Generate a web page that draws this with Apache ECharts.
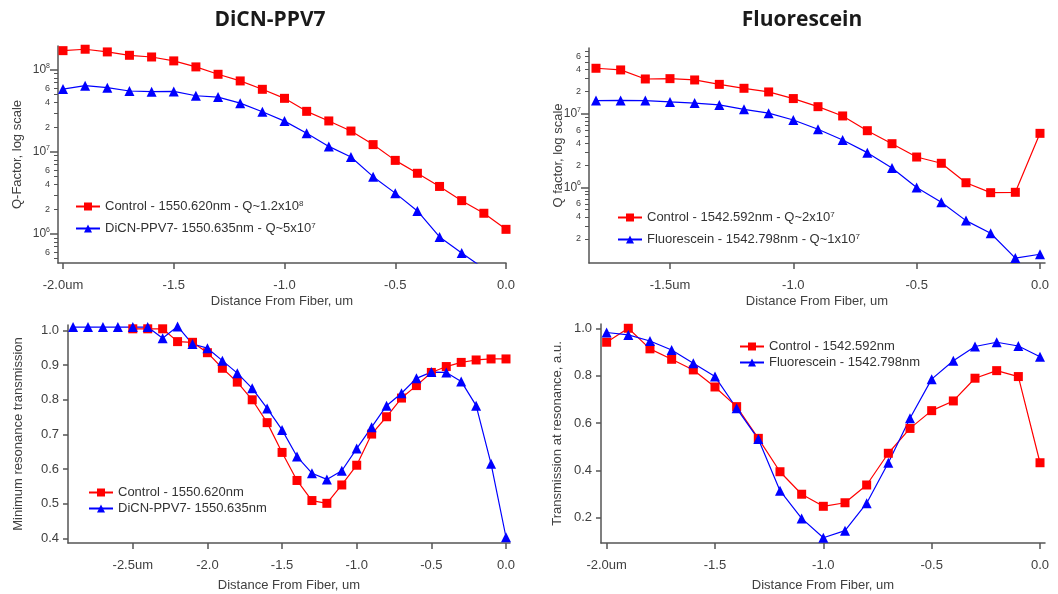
<!DOCTYPE html>
<html>
<head>
<meta charset="utf-8">
<script src="https://cdn.jsdelivr.net/npm/echarts@6/dist/echarts.min.js"></script>
<style>
html, body { margin: 0; padding: 0; background: #fff; }
#chart { width: 1058px; height: 594px; }
</style>
</head>
<body>
<div id="chart"></div>
<script>
// distance from fiber, um
var dist21 = [-2.0, -1.9, -1.8, -1.7, -1.6, -1.5, -1.4, -1.3, -1.2, -1.1, -1.0, -0.9, -0.8, -0.7, -0.6, -0.5, -0.4, -0.3, -0.2, -0.1, 0.0]
var dist19 = [-1.8, -1.7, -1.6, -1.5, -1.4, -1.3, -1.2, -1.1, -1.0, -0.9, -0.8, -0.7, -0.6, -0.5, -0.4, -0.3, -0.2, -0.1, 0.0]
var dist26 = [-2.5, -2.4, -2.3, -2.2, -2.1, -2.0, -1.9, -1.8, -1.7, -1.6, -1.5, -1.4, -1.3, -1.2, -1.1, -1.0, -0.9, -0.8, -0.7, -0.6, -0.5, -0.4, -0.3, -0.2, -0.1, 0.0]
var dist30 = [-2.9, -2.8, -2.7, -2.6, -2.5, -2.4, -2.3, -2.2, -2.1, -2.0, -1.9, -1.8, -1.7, -1.6, -1.5, -1.4, -1.3, -1.2, -1.1, -1.0, -0.9, -0.8, -0.7, -0.6, -0.5, -0.4, -0.3, -0.2, -0.1, 0.0]

// Q factor, DiCN-PPV7 panel
var qControlA = [1.72e8, 1.79e8, 1.66e8, 1.51e8, 1.44e8, 1.29e8, 1.09e8, 8.86e7, 7.35e7, 5.81e7, 4.51e7, 3.13e7, 2.39e7, 1.80e7, 1.23e7, 7.9e6, 5.5e6, 3.8e6, 2.55e6, 1.79e6, 1.14e6]
var qDicn = [5.85e7, 6.43e7, 6.08e7, 5.54e7, 5.43e7, 5.48e7, 4.85e7, 4.67e7, 3.94e7, 3.09e7, 2.38e7, 1.69e7, 1.17e7, 8.7e6, 5.0e6, 3.15e6, 1.91e6, 9.2e5, 5.85e5, 3.8e5]

// Q factor, Fluorescein panel
var qControlB = [4.15e7, 3.94e7, 2.97e7, 3.0e7, 2.88e7, 2.51e7, 2.22e7, 1.98e7, 1.61e7, 1.25e7, 9.35e6, 5.9e6, 3.93e6, 2.59e6, 2.13e6, 1.16e6, 8.5e5, 8.6e5, 5.43e6]
var qFluor = [1.51e7, 1.52e7, 1.51e7, 1.45e7, 1.40e7, 1.32e7, 1.15e7, 1.02e7, 8.25e6, 6.16e6, 4.42e6, 2.97e6, 1.84e6, 1.0e6, 6.3e5, 3.55e5, 2.39e5, 1.1e5, 1.24e5]

// transmission, DiCN-PPV7 panel
var tControlA = [1.005, 1.005, 1.005, 0.968, 0.966, 0.936, 0.891, 0.851, 0.800, 0.734, 0.648, 0.567, 0.509, 0.501, 0.554, 0.611, 0.701, 0.751, 0.805, 0.841, 0.879, 0.896, 0.908, 0.915, 0.918, 0.918]
var tDicn = [1.01, 1.01, 1.01, 1.01, 1.01, 1.01, 0.978, 1.012, 0.961, 0.949, 0.913, 0.877, 0.833, 0.775, 0.713, 0.636, 0.588, 0.570, 0.595, 0.659, 0.721, 0.783, 0.819, 0.862, 0.880, 0.879, 0.853, 0.783, 0.615, 0.403]

// transmission, Fluorescein panel
var tControlB = [0.941, 1.0, 0.913, 0.869, 0.824, 0.752, 0.669, 0.535, 0.394, 0.299, 0.248, 0.263, 0.338, 0.472, 0.577, 0.652, 0.693, 0.789, 0.821, 0.796, 0.432]
var tFluor = [0.982, 0.972, 0.946, 0.908, 0.852, 0.796, 0.662, 0.532, 0.314, 0.197, 0.115, 0.145, 0.261, 0.432, 0.620, 0.785, 0.863, 0.923, 0.941, 0.925, 0.880]

// tick labels
var xTicksA = [-2.0, -1.5, -1.0, -0.5, 0.0]
var xTicksB = [-1.5, -1.0, -0.5, 0.0]
var xTicksC = [-2.5, -2.0, -1.5, -1.0, -0.5, 0.0]
var xTicksD = [-2.0, -1.5, -1.0, -0.5, 0.0]
var yTicksC = [0.4, 0.5, 0.6, 0.7, 0.8, 0.9, 1.0]
var yTicksD = [0.2, 0.4, 0.6, 0.8, 1.0]
var qLabelsA = [6e5, 1e6, 2e6, 4e6, 6e6, 1e7, 2e7, 4e7, 6e7, 1e8]
var qLabelsB = [2e5, 4e5, 6e5, 1e6, 2e6, 4e6, 6e6, 1e7, 2e7, 4e7, 6e7]

var names = {
  ctrlQA: 'Control - 1550.620nm - Q~1.2x10^8',
  dicnQ: 'DiCN-PPV7- 1550.635nm - Q~5x10^7',
  ctrlQB: 'Control - 1542.592nm - Q~2x10^7',
  fluorQ: 'Fluorescein - 1542.798nm - Q~1x10^7',
  ctrlTA: 'Control - 1550.620nm',
  dicnT: 'DiCN-PPV7- 1550.635nm',
  ctrlTB: 'Control - 1542.592nm',
  fluorT: 'Fluorescein - 1542.798nm'
}

var FONT = '"Liberation Sans", Arial, sans-serif'
var TXT = '#404040'
var AXIS = '#555'
var RED = '#ff0000'
var BLUE = '#0000ff'

function pairs(xs, ys) {
  return ys.map(function (y, i) { return [xs[i], y] })
}

function log10s(arr) {
  return arr.map(function (v) { return Math.log10(v) })
}

// 2..9 x 10^n ticks inside [lo, hi]
function minorLogTicks(lo, hi) {
  var out = []
  for (var e = Math.floor(Math.log10(lo)); e <= Math.ceil(Math.log10(hi)); e++) {
    for (var m = 2; m <= 9; m++) {
      var v = m * Math.pow(10, e)
      if (v >= lo && v <= hi) out.push(Math.log10(v))
    }
  }
  return out
}

// long ticks only at the labelled powers of ten
function decadeTicks(labels) {
  return log10s(labels).filter(function (v) { return Math.abs(v - Math.round(v)) < 1e-6 })
}

function logLabel(v) {
  var e = Math.floor(v + 1e-6)
  var m = Math.round(Math.pow(10, v - e))
  if (m === 1) return '{b|10}{s|' + e + '}'
  return '{m|' + m + '}'
}

function supName(name) {
  return name.replace(/\^(\d+)/, '{s|$1}')
}

function xAxisOf(grid, min, max, ticks, name, nameGap) {
  return {
    gridIndex: grid, type: 'value', min: min, max: max,
    name: name, nameLocation: 'middle', nameGap: nameGap,
    nameTextStyle: { fontFamily: FONT, fontSize: 13, color: TXT },
    axisLine: { show: true, onZero: false, lineStyle: { color: AXIS, width: 1.5 } },
    axisTick: { show: true, length: 6, customValues: ticks, lineStyle: { color: AXIS, width: 1.5 } },
    axisLabel: {
      customValues: ticks, margin: 16, fontFamily: FONT, fontSize: 13, color: TXT,
      formatter: function (v) { return v === ticks[0] ? v.toFixed(1) + 'um' : v.toFixed(1) }
    },
    splitLine: { show: false }
  }
}

function valueYAxis(grid, min, max, ticks, name, nameGap) {
  return {
    gridIndex: grid, type: 'value', min: min, max: max, position: 'left',
    name: name, nameLocation: 'middle', nameGap: nameGap,
    nameTextStyle: { fontFamily: FONT, fontSize: 13, color: TXT },
    axisLine: { show: true, onZero: false, lineStyle: { color: AXIS, width: 1.5 } },
    axisTick: { show: true, length: 5, customValues: ticks, lineStyle: { color: AXIS, width: 1.5 } },
    axisLabel: {
      customValues: ticks, margin: 9, fontFamily: FONT, fontSize: 13, color: TXT,
      formatter: function (v) { return v.toFixed(1) }
    },
    splitLine: { show: false }
  }
}

// log grid: one log axis for the data, plus two overlaid axes for ticks and labels
function logYAxes(grid, lo, hi, labels, name, nameGap) {
  return [
    {
      gridIndex: grid, type: 'log', logBase: 10, min: lo, max: hi, position: 'left',
      name: name, nameLocation: 'middle', nameGap: nameGap,
      nameTextStyle: { fontFamily: FONT, fontSize: 13, color: TXT },
      axisLine: { show: true, onZero: false, lineStyle: { color: AXIS, width: 1.5 } },
      axisTick: { show: false }, axisLabel: { show: false }, splitLine: { show: false }
    },
    {
      gridIndex: grid, type: 'value', min: Math.log10(lo), max: Math.log10(hi), position: 'left',
      axisLine: { show: false, onZero: false },
      axisTick: { show: true, length: 4, customValues: minorLogTicks(lo, hi), lineStyle: { color: AXIS, width: 1 } },
      axisLabel: {
        customValues: log10s(labels), margin: 8, fontFamily: FONT, color: TXT,
        formatter: logLabel,
        rich: {
          b: { fontFamily: FONT, fontSize: 12, color: TXT, lineHeight: 15 },
          s: { fontFamily: FONT, fontSize: 7, color: TXT, lineHeight: 7, verticalAlign: 'top' },
          m: { fontFamily: FONT, fontSize: 9, color: TXT }
        }
      },
      splitLine: { show: false }
    },
    {
      gridIndex: grid, type: 'value', min: Math.log10(lo), max: Math.log10(hi), position: 'left',
      axisLine: { show: false, onZero: false },
      axisTick: { show: true, length: 8, customValues: decadeTicks(labels), lineStyle: { color: AXIS, width: 1.5 } },
      axisLabel: { show: false },
      splitLine: { show: false }
    }
  ]
}

function lineSeries(name, xi, yi, data, color, symbol) {
  return {
    name: name, type: 'line', xAxisIndex: xi, yAxisIndex: yi, data: data,
    symbol: symbol, symbolSize: symbol === 'rect' ? 9 : 10,
    itemStyle: { color: color }, lineStyle: { color: color, width: 1.2 },
    clip: true, animation: false
  }
}

function legendOf(left, top, gap, data) {
  return {
    orient: 'vertical', left: left, top: top, itemWidth: 24, itemHeight: 10, itemGap: gap,
    padding: 0, data: data, formatter: supName,
    textStyle: {
      fontFamily: FONT, fontSize: 13, color: '#333',
      rich: { s: { fontFamily: FONT, fontSize: 8, color: '#333', lineHeight: 8, verticalAlign: 'top' } }
    }
  }
}

var qA = [4.43e5, 1.96e8]
var qB = [9.44e4, 7.82e7]

var chart = echarts.init(document.getElementById('chart'))
chart.setOption({
  backgroundColor: '#fff',
  animation: false,
  title: [
    { text: 'DiCN-PPV7', left: 270, top: 10, textAlign: 'center', padding: 0,
      textStyle: { fontFamily: '"Open Sans", sans-serif', fontWeight: 'bold', fontSize: 21, color: '#1a1a1a' } },
    { text: 'Fluorescein', left: 802, top: 10, textAlign: 'center', padding: 0,
      textStyle: { fontFamily: '"Open Sans", sans-serif', fontWeight: 'bold', fontSize: 21, color: '#1a1a1a' } }
  ],
  grid: [
    { left: 58, top: 46, width: 448, height: 217 },
    { left: 589, top: 48, width: 456, height: 215 },
    { left: 68, top: 325, width: 442, height: 218 },
    { left: 601, top: 324, width: 444, height: 219 }
  ],
  xAxis: [
    xAxisOf(0, -2.0226, 0, xTicksA, 'Distance From Fiber, um', 32),
    xAxisOf(1, -1.8283, 0.0203, xTicksB, 'Distance From Fiber, um', 32),
    xAxisOf(2, -2.934, 0.0268, xTicksC, 'Distance From Fiber, um', 36),
    xAxisOf(3, -2.026, 0.023, xTicksD, 'Distance From Fiber, um', 36)
  ],
  yAxis: [].concat(
    logYAxes(0, qA[0], qA[1], qLabelsA, 'Q-Factor, log scale', 34),
    logYAxes(1, qB[0], qB[1], qLabelsB, 'Q factor, log scale', 24),
    [valueYAxis(2, 0.3864, 1.016, yTicksC, 'Minimum resonance transmission', 43)],
    [valueYAxis(3, 0.093, 1.018, yTicksD, 'Transmission at resonance, a.u.', 37)]
  ),
  legend: [
    legendOf(75, 200, 9, [names.ctrlQA, names.dicnQ]),
    legendOf(617, 211, 9, [names.ctrlQB, names.fluorQ]),
    legendOf(88, 486, 3, [names.ctrlTA, names.dicnT]),
    legendOf(739, 340, 3, [names.ctrlTB, names.fluorT])
  ],
  series: [
    lineSeries(names.ctrlQA, 0, 0, pairs(dist21, qControlA), RED, 'rect'),
    lineSeries(names.dicnQ, 0, 0, pairs(dist21, qDicn), BLUE, 'triangle'),
    lineSeries(names.ctrlQB, 1, 3, pairs(dist19, qControlB), RED, 'rect'),
    lineSeries(names.fluorQ, 1, 3, pairs(dist19, qFluor), BLUE, 'triangle'),
    lineSeries(names.ctrlTA, 2, 6, pairs(dist26, tControlA), RED, 'rect'),
    lineSeries(names.dicnT, 2, 6, pairs(dist30, tDicn), BLUE, 'triangle'),
    lineSeries(names.ctrlTB, 3, 7, pairs(dist21, tControlB), RED, 'rect'),
    lineSeries(names.fluorT, 3, 7, pairs(dist21, tFluor), BLUE, 'triangle')
  ]
})
</script>
</body>
</html>
